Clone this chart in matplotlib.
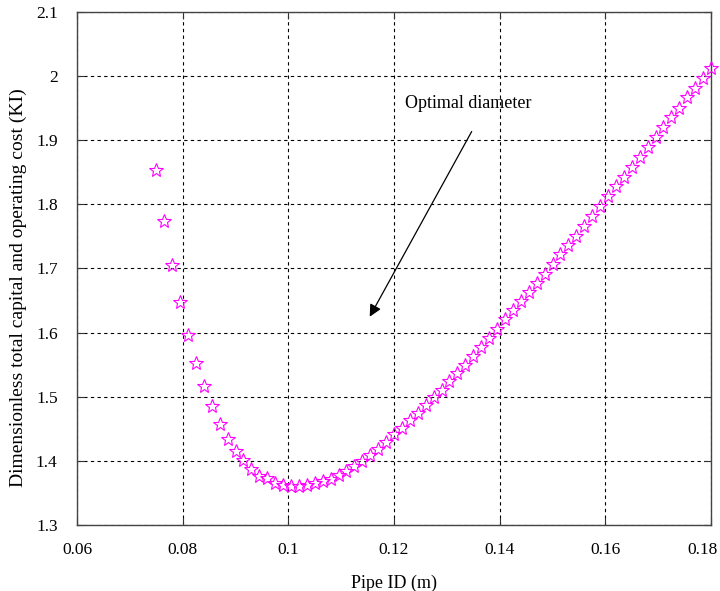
import matplotlib.pyplot as plt
from matplotlib.transforms import ScaledTranslation

# Pipe inner diameter (m) and dimensionless total cost KI
diametro = [0.0750, 0.0765, 0.0780, 0.0795, 0.0810, 0.0825, 0.0840, 0.0855, 0.0870, 0.0885,
            0.0900, 0.0915, 0.0930, 0.0945, 0.0960, 0.0975, 0.0990, 0.1005, 0.1020, 0.1035,
            0.1050, 0.1065, 0.1080, 0.1095, 0.1110, 0.1125, 0.1140, 0.1155, 0.1170, 0.1185,
            0.1200, 0.1215, 0.1230, 0.1245, 0.1260, 0.1275, 0.1290, 0.1305, 0.1320, 0.1335,
            0.1350, 0.1365, 0.1380, 0.1395, 0.1410, 0.1425, 0.1440, 0.1455, 0.1470, 0.1485,
            0.1500, 0.1515, 0.1530, 0.1545, 0.1560, 0.1575, 0.1590, 0.1605, 0.1620, 0.1635,
            0.1650, 0.1665, 0.1680, 0.1695, 0.1710, 0.1725, 0.1740, 0.1755, 0.1770, 0.1785,
            0.1800]
ki = [1.854, 1.774, 1.706, 1.648, 1.597, 1.553, 1.516, 1.486, 1.457, 1.434,
      1.415, 1.401, 1.387, 1.377, 1.373, 1.366, 1.363, 1.361, 1.361, 1.363,
      1.365, 1.368, 1.372, 1.378, 1.384, 1.392, 1.400, 1.409, 1.418, 1.429,
      1.442, 1.452, 1.463, 1.475, 1.487, 1.499, 1.511, 1.524, 1.537, 1.550,
      1.564, 1.578, 1.592, 1.606, 1.621, 1.635, 1.649, 1.663, 1.677, 1.692,
      1.707, 1.722, 1.736, 1.751, 1.766, 1.782, 1.797, 1.813, 1.828, 1.843,
      1.859, 1.874, 1.890, 1.905, 1.920, 1.936, 1.951, 1.967, 1.982, 1.997,
      2.013]

xticks = [0.06, 0.08, 0.1, 0.12, 0.14, 0.16, 0.18]
xticklabels = ['0.06', '0.08', '0.1', '0.12', '0.14', '0.16', '0.18']
yticks = [1.3, 1.4, 1.5, 1.6, 1.7, 1.8, 1.9, 2.0, 2.1]
yticklabels = ['1.3', '1.4', '1.5', '1.6', '1.7', '1.8', '1.9', '2', '2.1']

plt.rcParams['font.family'] = ['Liberation Serif', 'DejaVu Serif']

fig = plt.figure(figsize=(7.2, 5.91), dpi=100)
ax = fig.add_axes([0.107, 0.1117, 0.8805, 0.868])

# estrelas abertas em magenta
ax.plot(diametro, ki, linestyle='none', marker='*', markersize=10,
        markerfacecolor='none', markeredgecolor='#ff00ff', markeredgewidth=0.8,
        clip_on=False, zorder=3)

ax.set_xlim(0.06, 0.18)
ax.set_ylim(1.3, 2.1)
ax.set_xticks(xticks)
ax.set_xticklabels(xticklabels)
ax.set_yticks(yticks)
ax.set_yticklabels(yticklabels)
ax.tick_params(direction='in', length=5, width=0.8, top=True, right=True,
               labelsize=12.5, color='#333333')
ax.tick_params(axis='x', pad=12)
ax.tick_params(axis='y', pad=14)
for s in ax.spines.values():
    s.set_color('#444444')
    s.set_linewidth(1.0)

# ultimo rotulo do eixo x puxado para dentro da figura
ultimo = ax.get_xticklabels()[-1]
ultimo.set_transform(ultimo.get_transform() + ScaledTranslation(-9 / 100, 0, fig.dpi_scale_trans))

ax.grid(True, color='black', linestyle=(0, (3, 3)), linewidth=0.8)

ax.annotate('', xy=(0.1154, 1.6248), xytext=(0.1347, 1.9136),
            arrowprops=dict(arrowstyle='-|>', color='black', lw=0.9,
                            mutation_scale=18, shrinkA=0, shrinkB=0))
ax.text(0.1221, 1.958, 'Optimal diameter', fontsize=13, va='center', ha='left')

ax.set_xlabel('Pipe ID (m)', fontsize=13, labelpad=12)
ax.set_ylabel('Dimensionless total capital and operating cost (KI)', fontsize=14, labelpad=10)
ax.yaxis.set_label_coords(-0.079, 0.463)

fig.savefig('out.png', dpi=100)
